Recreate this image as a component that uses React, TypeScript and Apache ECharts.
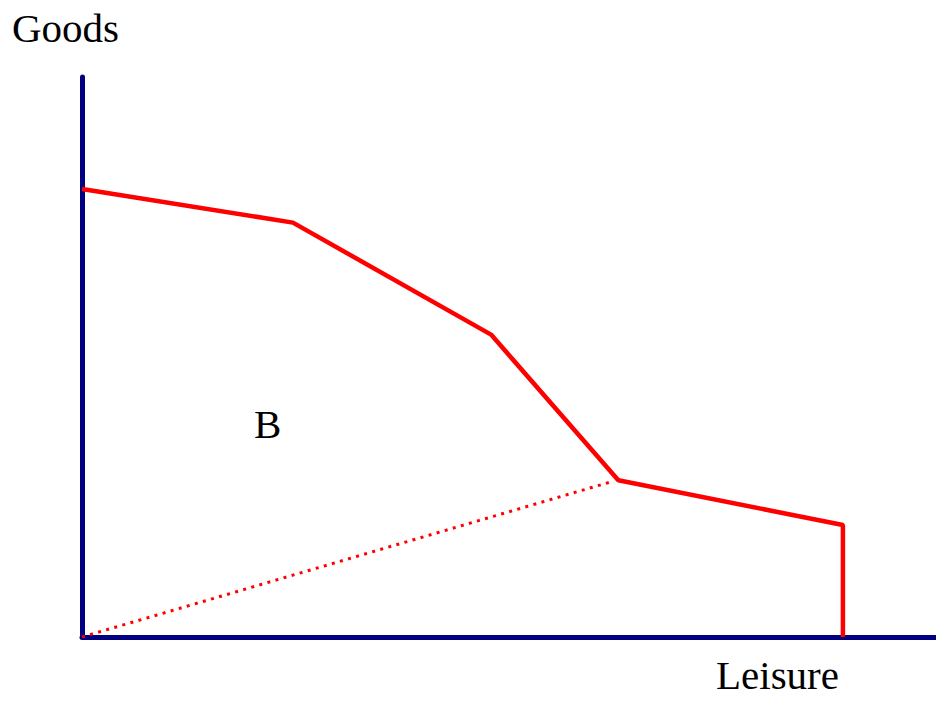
import React, { useEffect, useRef } from "react";
import * as echarts from "echarts";

const leisure = [0, 24.7, 47.9, 62.8, 89.1, 89.1];
const goods = [80, 74, 54, 28, 20, 0];
const rayLeisure = [0, 61.7];
const rayGoods = [0, 27.6];
const axisTitles = { y: "Goods", x: "Leisure", region: "B" };

export default function App() {
  const ref = useRef<HTMLDivElement>(null);
  useEffect(() => {
    document.body.style.margin = "0";
    const chart = echarts.init(ref.current!, null, { renderer: "svg" });
    const txt = {
      fontFamily: "Liberation Serif",
      fontSize: 41,
      fill: "#000000",
    };
    chart.setOption({
      animation: false,
      backgroundColor: "#ffffff",
      grid: { left: 82, right: 0, top: 77, bottom: 64 },
      xAxis: {
        type: "value",
        min: 0,
        max: 100,
        axisLine: { show: true, lineStyle: { color: "#000080", width: 5 } },
        axisTick: { show: false },
        axisLabel: { show: false },
        splitLine: { show: false },
      },
      yAxis: {
        type: "value",
        min: 0,
        max: 100,
        axisLine: { show: true, lineStyle: { color: "#000080", width: 5 } },
        axisTick: { show: false },
        axisLabel: { show: false },
        splitLine: { show: false },
      },
      series: [
        {
          type: "line",
          data: leisure.map((x, i) => [x, goods[i]]),
          symbol: "none",
          lineStyle: { color: "#ff0000", width: 4.5 },
          z: 3,
        },
        {
          type: "line",
          data: rayLeisure.map((x, i) => [x, rayGoods[i]]),
          symbol: "none",
          lineStyle: { color: "#ff0000", width: 3, type: [3, 5.4] },
          z: 2,
        },
      ],
      graphic: [
        {
          type: "text",
          left: 12,
          top: 7,
          style: { ...txt, text: axisTitles.y },
        },
        {
          type: "text",
          left: 716,
          top: 654,
          style: { ...txt, text: axisTitles.x },
        },
        {
          type: "text",
          left: 254,
          top: 403,
          style: { ...txt, text: axisTitles.region },
        },
      ],
    });
    return () => chart.dispose();
  }, []);
  return (
    <div
      ref={ref}
      style={{ position: "absolute", left: 0, top: 0, width: 936, height: 701 }}
    />
  );
}
